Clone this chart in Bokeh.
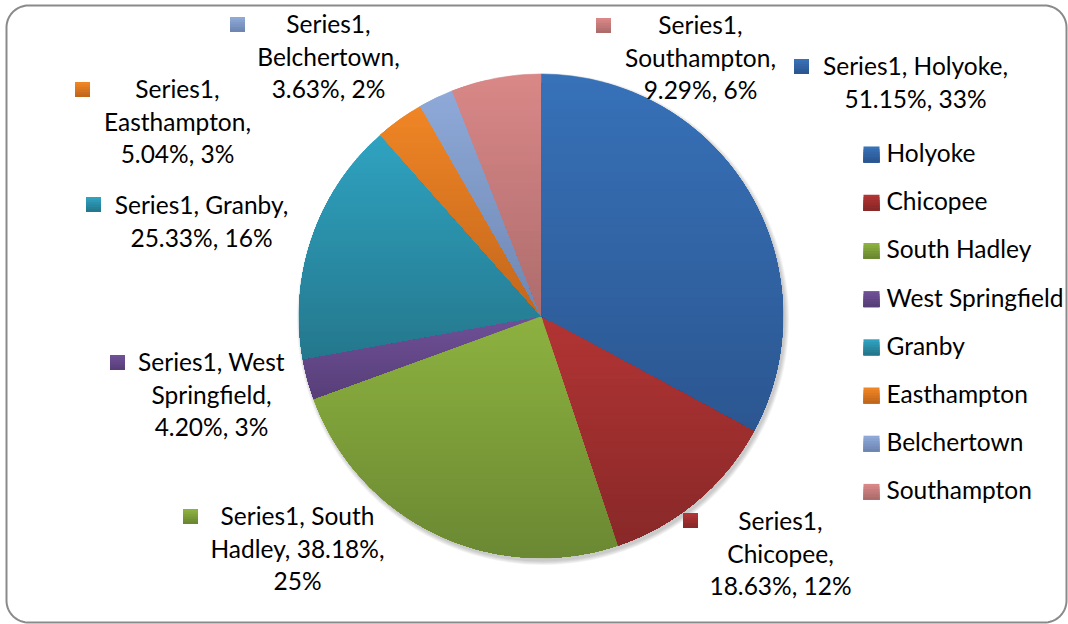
import numpy as np
from bokeh.plotting import figure
from bokeh.models import Range1d, ColumnDataSource
from bokeh.core.properties import value
from bokeh.embed import file_html
from bokeh.resources import INLINE

# ---------------- data ----------------
series_name = "Series1"
towns = ["Holyoke", "Chicopee", "South Hadley", "West Springfield",
         "Granby", "Easthampton", "Belchertown", "Southampton"]
values = [51.15, 18.63, 38.18, 4.20, 25.33, 5.04, 3.63, 9.29]

# ---------------- style ----------------
top_colors = ["#3771B8", "#B23434", "#8DB140", "#6F5097",
              "#2FA2C0", "#EF8525", "#8EA9D8", "#D98787"]
bottom_colors = ["#2B5690", "#882828", "#6A8832", "#573E78",
                 "#24778C", "#C2661C", "#6E86B1", "#AD6C6C"]

W, H = 1068, 624
FONT = "Lato"
FS = "24.5px"
LH = 32.5
TXT_DY = -2  # small vertical nudge for text (pixels, upward)

def X(px):  # page pixel -> data
    return px

def Y(py):
    return H - py

cx, cy, R = X(540.5), Y(315.5), 242.0

# label layout (page pixels): centre x of text block, y of first line, marker x/y, wrap width
lab_cx = [915, 780, 297, 211, 201, 177, 328, 700]
lab_y1 = [67, 522, 517, 363, 206, 90, 25, 26]
mk_x = [801, 690, 190, 117, 93, 82, 237, 603]
mk_y = [66, 520, 516, 362, 204, 89, 24, 25]
wrap = [17, 11, 15, 13, 16, 12, 12, 12]

legend_x = 871
legend_y0 = 154
legend_dy = 48.2

p = figure(width=W, height=H, output_backend="svg", toolbar_location=None,
           x_range=Range1d(0, W), y_range=Range1d(0, H),
           min_border=0, min_border_left=0, min_border_right=0,
           min_border_top=0, min_border_bottom=0)
p.axis.visible = False
p.grid.visible = False
p.outline_line_color = None
p.background_fill_color = "white"
p.border_fill_color = "white"

# rounded frame
def rounded_rect(x0, y0, x1, y1, r, n=20):
    xs, ys = [], []
    corners = [(x1 - r, y1 - r, 0, np.pi / 2), (x0 + r, y1 - r, np.pi / 2, np.pi),
               (x0 + r, y0 + r, np.pi, 1.5 * np.pi), (x1 - r, y0 + r, 1.5 * np.pi, 2 * np.pi)]
    for (ccx, ccy, a0, a1) in corners:
        t = np.linspace(a0, a1, n)
        xs.extend(ccx + r * np.cos(t))
        ys.extend(ccy + r * np.sin(t))
    return xs, ys

fx, fy = rounded_rect(X(6), Y(622), X(1066), Y(5), 22)
p.patch(fx, fy, fill_color=None, line_color="#8A8A8A", line_width=2)

# ---------------- pie ----------------
vals = np.array(values, dtype=float)
total = vals.sum()
fracs = vals / total
ends = np.pi / 2 - 2 * np.pi * np.cumsum(fracs)
starts = np.concatenate([[np.pi / 2], ends[:-1]])

# soft shadow
for i in range(5):
    p.circle(x=cx + 2, y=cy - 3, radius=R + 0.5 + i * 0.9, fill_color="black",
             fill_alpha=0.045, line_color=None)

src = ColumnDataSource(dict(start=starts, end=ends, color=top_colors, town=towns, val=values))
p.wedge(x=cx, y=cy, radius=R, start_angle="start", end_angle="end", direction="clock",
        fill_color="color", line_color="color", line_width=0.5, source=src)

def hex2rgb(h):
    h = h.lstrip("#")
    return np.array([int(h[i:i + 2], 16) for i in (0, 2, 4)], dtype=float)

def rgb2hex(c):
    return "#%02x%02x%02x" % tuple(int(round(v)) for v in c)

def blend(i, f):
    c0, c1 = hex2rgb(top_colors[i]), hex2rgb(bottom_colors[i])
    return rgb2hex(c0 + (c1 - c0) * f)

def wedge_poly(a0, a1, n=160):
    t = np.linspace(a0, a1, n)
    xs = np.concatenate([[cx], cx + R * np.cos(t)])
    ys = np.concatenate([[cy], cy + R * np.sin(t)])
    return xs, ys

def clip_below(xs, ys, thr):
    ox, oy = [], []
    n = len(xs)
    for i in range(n):
        x1, y1 = xs[i], ys[i]
        x2, y2 = xs[(i + 1) % n], ys[(i + 1) % n]
        in1, in2 = y1 <= thr, y2 <= thr
        if in1:
            ox.append(x1); oy.append(y1)
        if in1 != in2:
            f = (thr - y1) / (y2 - y1)
            ox.append(x1 + f * (x2 - x1)); oy.append(thr)
    return ox, oy

gx, gy, gc = [], [], []
N = 40
for i in range(len(values)):
    xs, ys = wedge_poly(starts[i], ends[i])
    ymin, ymax = ys.min(), ys.max()
    for k in range(1, N):
        thr = ymax - (k / N) * (ymax - ymin)
        ox, oy = clip_below(xs, ys, thr)
        if len(ox) < 3:
            continue
        gx.append(ox); gy.append(oy)
        gc.append(blend(i, k / N))
p.patches(gx, gy, fill_color=gc, line_color=None)

# gradient squares (nested, no seams)
def grad_squares(xc, yc, size, steps=6):
    for k in range(steps):
        hh = size * (1 - k / steps)
        cols = [blend(i, k / (steps - 1)) for i in range(len(towns))]
        p.rect(x=xc, y=[v - size / 2 + hh / 2 for v in yc], width=size, height=hh,
               fill_color=cols, line_color=None)

# ---------------- data labels ----------------
def wrap_text(s, width):
    words = s.split(" ")
    lines, cur = [], ""
    for w in words:
        cand = w if not cur else cur + " " + w
        if len(cand) <= width or not cur:
            cur = cand
        else:
            lines.append(cur)
            cur = w
    lines.append(cur)
    return lines

tx, ty, tt = [], [], []
for i, town in enumerate(towns):
    pct = int(round(values[i] / total * 100))
    label = f"{series_name}, {town}, {values[i]:.2f}%, {pct}%"
    for j, line in enumerate(wrap_text(label, wrap[i])):
        tx.append(X(lab_cx[i]))
        ty.append(Y(lab_y1[i] + j * LH) - TXT_DY)
        tt.append(line)
p.text(x=tx, y=ty, text=tt, text_align="center", text_baseline="middle",
       text_font=value(FONT), text_font_size=FS, text_color="#000000")

grad_squares([X(v) for v in mk_x], [Y(v) for v in mk_y], 15)

# ---------------- legend ----------------
ly = [Y(legend_y0 + k * legend_dy) for k in range(len(towns))]
lx = [X(legend_x)] * len(towns)
grad_squares(lx, ly, 16)
p.text(x=[X(legend_x + 15)] * len(towns), y=[v - TXT_DY for v in ly], text=towns,
       text_align="left", text_baseline="middle", text_font=value(FONT),
       text_font_size=FS, text_color="#000000")

open("out.html", "w").write(file_html(p, INLINE))
